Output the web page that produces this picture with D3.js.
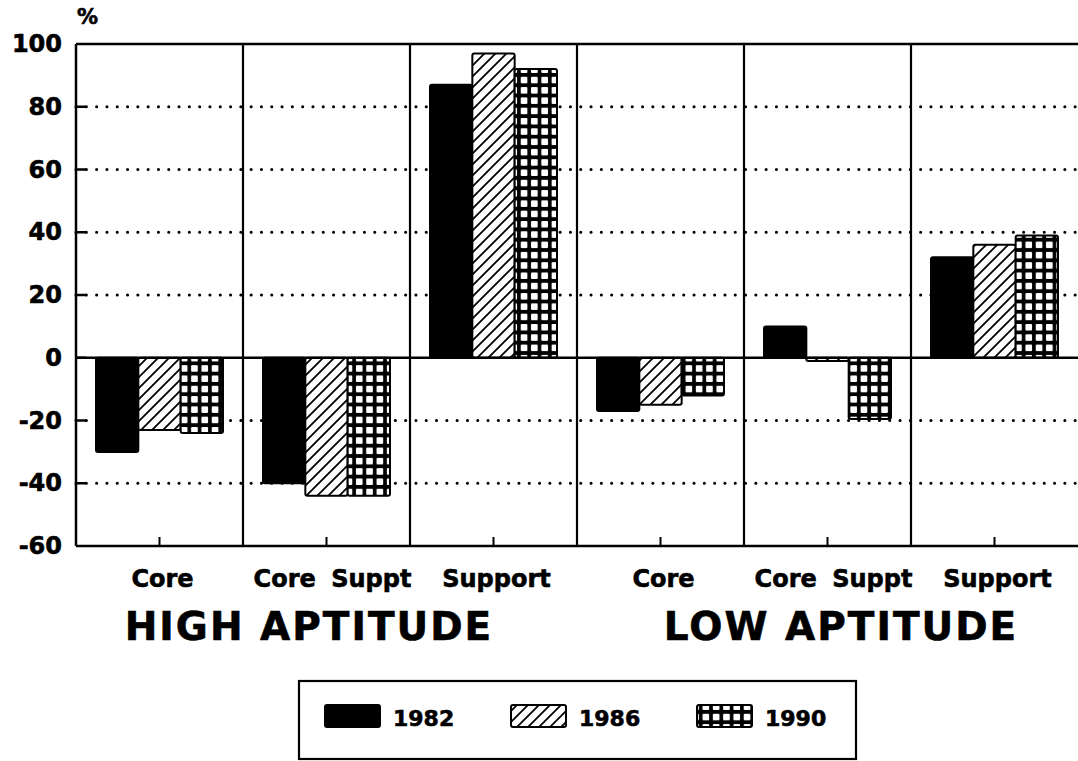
<!DOCTYPE html>
<html>
<head>
<meta charset="utf-8">
<script src="https://cdn.jsdelivr.net/npm/d3@7"></script>
<style>
  body { margin: 0; background: #fff; }
  text { font-family: "DejaVu Sans", sans-serif; font-weight: bold; fill: #000; stroke: #000; stroke-width: 0.6px; }
</style>
</head>
<body>
<script>
// data
var categories = ["H-Core", "H-CoreSuppt", "H-Support", "L-Core", "L-CoreSuppt", "L-Support"];
var catLabels = ["Core", "Core Suppt", "Support", "Core", "Core Suppt", "Support"];
var years = ["1982", "1986", "1990"];
var v1982 = [-30, -40, 87, -17, 10, 32];
var v1986 = [-23, -44, 97, -15, -1, 36];
var v1990 = [-24, -44, 92, -12, -19.5, 39];
var groups = ["HIGH APTITUDE", "LOW APTITUDE"];
var yTicks = [-60, -40, -20, 0, 20, 40, 60, 80, 100];

var series = {"1982": v1982, "1986": v1986, "1990": v1990};
var fills = {"1982": "#000", "1986": "url(#hatch)", "1990": "url(#grid)"};

var W = 1078, H = 761;
var margin = {top: 44, right: 0, bottom: 215, left: 76};
var width = W - margin.left - margin.right,
    height = H - margin.top - margin.bottom;

var svg = d3.select("body").append("svg")
        .attr("width", W)
        .attr("height", H);

var defs = svg.append("defs");

// diagonal hatch
var hp = defs.append("pattern")
        .attr("id", "hatch")
        .attr("patternUnits", "userSpaceOnUse")
        .attr("width", 11).attr("height", 11);
hp.append("rect").attr("width", 11).attr("height", 11).attr("fill", "#fff");
hp.append("path")
        .attr("d", "M-2,13 L13,-2 M-2,2 L2,-2 M9,13 L13,9")
        .attr("stroke", "#000").attr("stroke-width", 1.8);

// square grid
var gp = defs.append("pattern")
        .attr("id", "grid")
        .attr("patternUnits", "userSpaceOnUse")
        .attr("width", 10.3).attr("height", 10.3);
gp.append("rect").attr("width", 10.3).attr("height", 10.3).attr("fill", "#000");
gp.append("rect").attr("x", 1.8).attr("y", 1.8).attr("width", 6.7).attr("height", 6.7)
        .attr("rx", 1).attr("fill", "#fff");

var g = svg.append("g")
        .attr("transform", "translate(" + margin.left + "," + margin.top + ")");

var x0 = d3.scaleBand().domain(categories).range([0, width]);
var x1 = d3.scaleBand().domain(years).range([20, x0.bandwidth() - 20]);
var y = d3.scaleLinear().domain([-60, 100]).range([height, 0]);

// dotted grid lines
g.selectAll("line.grid")
        .data(yTicks.filter(function(d) { return d != 0 && d != -60 && d != 100; }))
    .enter().append("line")
        .attr("class", "grid")
        .attr("x1", 0).attr("x2", width)
        .attr("y1", function(d) { return y(d); })
        .attr("y2", function(d) { return y(d); })
        .attr("stroke", "#000")
        .attr("stroke-width", 3)
        .attr("stroke-linecap", "round")
        .attr("stroke-dasharray", "0.1,10.2");

// bars
categories.forEach(function(c, i) {
    years.forEach(function(yr) {
        var v = series[yr][i];
        g.append("rect")
            .attr("x", x0(c) + x1(yr))
            .attr("y", y(Math.max(0, v)))
            .attr("width", x1.bandwidth())
            .attr("height", Math.abs(y(v) - y(0)))
            .attr("rx", 2)
            .attr("fill", fills[yr])
            .attr("stroke", "#000")
            .attr("stroke-width", 2);
    });
});

// frame lines
[100, 0, -60].forEach(function(v) {
    g.append("line").attr("x1", 0).attr("x2", width).attr("y1", y(v)).attr("y2", y(v))
        .attr("stroke", "#000").attr("stroke-width", 2.5);
});
g.append("line").attr("x1", 0).attr("x2", 0).attr("y1", y(100)).attr("y2", y(-60))
        .attr("stroke", "#000").attr("stroke-width", 2.5);

// panel separators
g.selectAll("line.sep")
        .data(categories.slice(1))
    .enter().append("line")
        .attr("class", "sep")
        .attr("x1", function(d) { return x0(d); })
        .attr("x2", function(d) { return x0(d); })
        .attr("y1", y(100)).attr("y2", y(-60))
        .attr("stroke", "#000").attr("stroke-width", 2.2);

// bottom ticks at category centres
g.selectAll("line.xt")
        .data(categories)
    .enter().append("line")
        .attr("x1", function(d) { return x0(d) + x0.bandwidth() / 2; })
        .attr("x2", function(d) { return x0(d) + x0.bandwidth() / 2; })
        .attr("y1", y(-60)).attr("y2", y(-60) - 9)
        .attr("stroke", "#000").attr("stroke-width", 2);

// y axis
var yAxis = d3.axisLeft(y).tickValues(yTicks).tickSize(0).tickPadding(14)
        .tickFormat(function(d) { return String(d); });
var ya = g.append("g").call(yAxis);
ya.select(".domain").remove();
ya.selectAll("text")
        .style("font-size", "24px")
        .style("font-family", "DejaVu Sans")
        .style("font-weight", "bold")
        .attr("fill", "#000");
g.selectAll("line.yt")
        .data(yTicks.slice(1, -1))
    .enter().append("line")
        .attr("x1", 0).attr("x2", 10)
        .attr("y1", function(d) { return y(d); })
        .attr("y2", function(d) { return y(d); })
        .attr("stroke", "#000").attr("stroke-width", 2.5);

svg.append("text")
        .attr("x", 77).attr("y", 24)
        .style("font-size", "21px")
        .text("%");

// category labels
g.selectAll("text.cat")
        .data(categories)
    .enter().append("text")
        .attr("class", "cat")
        .attr("x", function(d, i) {
            return x0(d) + x0.bandwidth() / 2 + (catLabels[i] == "Core Suppt" ? 6 : 3);
        })
        .attr("y", y(-60) + 41)
        .attr("text-anchor", "middle")
        .style("font-size", "24px")
        .style("word-spacing", "7px")
        .text(function(d, i) { return catLabels[i]; });

// group labels
g.selectAll("text.grp")
        .data(groups)
    .enter().append("text")
        .attr("x", function(d, i) { return i == 0 ? 233 : 765; })
        .attr("y", y(-60) + 94)
        .attr("text-anchor", "middle")
        .style("font-size", "39px")
        .style("letter-spacing", "2px")
        .text(function(d) { return d; });

// legend
var leg = svg.append("g").attr("transform", "translate(299,681)");
leg.append("rect")
        .attr("width", 557).attr("height", 78)
        .attr("fill", "none").attr("stroke", "#000").attr("stroke-width", 2.2);
var lx = d3.scalePoint().domain(years).range([26, 398]);
years.forEach(function(yr) {
    leg.append("rect")
        .attr("x", lx(yr)).attr("y", 24)
        .attr("width", 55).attr("height", 22)
        .attr("rx", 2)
        .attr("fill", fills[yr]).attr("stroke", "#000").attr("stroke-width", 2);
    leg.append("text")
        .attr("x", lx(yr) + 68).attr("y", 45)
        .style("font-size", "22px")
        .text(yr);
});
</script>
</body>
</html>
